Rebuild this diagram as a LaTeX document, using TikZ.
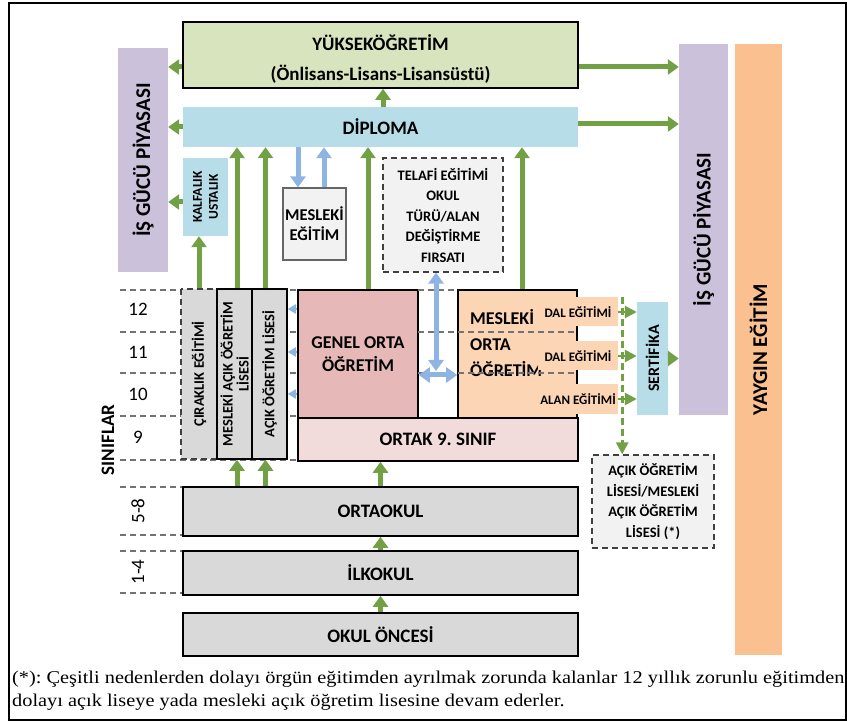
\documentclass[tikz,border=0pt]{standalone}
\usepackage{fontspec}
\setmainfont{Carlito}
\newfontfamily\notefont[FakeStretch=1.13]{Liberation Serif}
\usetikzlibrary{shapes,arrows.meta,positioning,calc}

\newcommand{\fsz}[2]{\fontsize{#1}{#2}\selectfont}

\definecolor{yokgreen}{HTML}{D7E4BD}
\definecolor{dipblue}{HTML}{B7DEE8}
\definecolor{isgucu}{HTML}{CCC1DA}
\definecolor{yaygincol}{HTML}{FAC090}
\definecolor{meslek}{HTML}{FCD5B5}
\definecolor{genelpink}{HTML}{E6B9B8}
\definecolor{ortakpink}{HTML}{F2DCDB}
\definecolor{okulgray}{HTML}{D9D9D9}
\definecolor{paleg}{HTML}{F2F2F2}
\definecolor{arrgreen}{HTML}{72A045}
\definecolor{arrblue}{HTML}{8EB4E3}

\begin{document}
\frenchspacing
\begin{tikzpicture}[x=1pt, y=-1pt,
    box/.style={draw, line width=1.6pt, rectangle, inner sep=0pt, align=center, font=\bfseries\fsz{19}{24}},
    flat/.style={rectangle, inner sep=0pt, align=center, font=\bfseries\fsz{19}{24}},
    dbox/.style={draw=black!75, dash pattern=on 6pt off 4pt, line width=1.2pt, fill=paleg, rectangle, inner sep=0pt, align=center, font=\bfseries\fsz{14.5}{20.5}},
    col/.style={rectangle, rotate=90, inner sep=0pt, minimum width=170pt, minimum height=35pt, fill=okulgray, align=center, font=\bfseries\fsz{14.5}{16}},
    garrow/.style={draw=arrgreen, line width=5pt, -{Triangle[width=15pt,length=11pt]}},
    barrow/.style={draw=arrblue, line width=5pt, -{Triangle[width=15pt,length=11pt]}},
    bboth/.style={draw=arrblue, line width=5pt, {Triangle[width=15pt,length=11pt]}-{Triangle[width=15pt,length=11pt]}},
    gdash/.style={draw=arrgreen, line width=2.6pt, dash pattern=on 7pt off 4pt, -{Triangle[width=12pt,length=12pt]}},
    bsmall/.style={draw=arrblue, line width=2pt, -{Triangle[width=9pt,length=8pt]}},
    rowline/.style={draw=black!55, line width=1.3pt, dash pattern=on 6pt off 4pt},
    grade/.style={inner sep=0pt, font=\fsz{19}{22}},
    bandtext/.style={rectangle, fill=meslek, inner sep=0pt, minimum width=80pt, minimum height=29pt, font=\bfseries\fsz{13}{14}}
]
\useasboundingbox (0,0) rectangle (847,722);
\draw[line width=2pt] (9,3) rectangle (846,720);

% grade rows
\foreach \yy in {290,332,373,416,460} \draw[rowline] (120,\yy) -- (298,\yy);
\foreach \yy in {487,535,551,593} \draw[rowline] (120,\yy) -- (183,\yy);

% top
\node (yuksek) [box, fill=yokgreen, minimum width=395pt, minimum height=66pt, font=\bfseries\fsz{19}{30}] at (380.5,55) {\rule{0pt}{24pt}YÜKSEKÖĞRETİM\\(Önlisans-Lisans-Lisansüstü)};
\node (dipl) [flat, fill=dipblue, minimum width=395pt, minimum height=40pt] at (380.5,127) {DİPLOMA};
\node (igpL) [flat, fill=isgucu, rotate=90, minimum width=224pt, minimum height=50pt, font=\bfseries\fsz{21}{22}] at (143,160) {İŞ GÜCÜ PİYASASI};
\node (igpR) [flat, fill=isgucu, rotate=90, minimum width=371pt, minimum height=49pt, font=\bfseries\fsz{21}{22}] at (703.5,229.5) {İŞ GÜCÜ PİYASASI};
\node (yaygin) [flat, fill=yaygincol, rotate=90, minimum width=611pt, minimum height=47pt, font=\bfseries\fsz{21}{22}] at (758.5,349.5) {YAYGIN EĞİTİM};

% middle
\node (kalfa) [flat, fill=dipblue, rotate=90, minimum width=78pt, minimum height=45pt, font=\bfseries\fsz{13.5}{16}] at (205.5,197) {KALFALIK\\USTALIK};
\node (mesegt) [draw=black!60, line width=1.2pt, fill=paleg, inner sep=0pt, align=center, minimum width=63pt, minimum height=72pt, font=\bfseries\fsz{16.5}{20}] at (314.5,224) {MESLEKİ\\EĞİTİM};
\node (telafi) [dbox, minimum width=120pt, minimum height=114pt] at (443,215) {TELAFİ EĞİTİMİ\\OKUL\\TÜRÜ/ALAN\\DEĞİŞTİRME\\FIRSATI};

\node (cirak) [col, draw=black!75, dash pattern=on 6pt off 4pt, line width=1.2pt, minimum height=36pt] at (199,374) {ÇIRAKLIK EĞİTİMİ};
\node (maol) [col, draw, line width=1.5pt] at (234.5,374) {MESLEKİ AÇIK ÖĞRETİM\\LİSESİ};
\node (aol) [col, draw, line width=1.5pt] at (269.5,374) {AÇIK ÖĞRETİM LİSESİ};

\node (genel) [box, fill=genelpink, minimum width=120pt, minimum height=128pt, font=\bfseries\fsz{18}{23}] at (358,354) {GENEL ORTA\\ÖĞRETİM};
\node (mort) [box, fill=meslek, minimum width=119pt, minimum height=128pt] at (517.5,354) {};
\node (morttxt) [anchor=west, inner sep=0pt, align=left, font=\bfseries\fsz{18}{26}] at (470,343) {MESLEKİ\\ORTA\\ÖĞRETİM};
\draw[rowline] (418,290) -- (458,290);
\foreach \yy in {332,373} \draw[rowline] (418,\yy) -- (577,\yy);
\node (dal1) [bandtext] at (578,312) {DAL EĞİTİMİ};
\node (dal2) [bandtext] at (578,356) {DAL EĞİTİMİ};
\node (alan) [bandtext] at (578,399) {ALAN EĞİTİMİ};
\node (ortak) [box, fill=ortakpink, minimum width=280pt, minimum height=43pt] at (438,439.5) {ORTAK 9. SINIF};

\node (sert) [flat, fill=dipblue, rotate=90, minimum width=113pt, minimum height=31pt, font=\bfseries\fsz{16}{18}] at (652.5,358.5) {SERTİFİKA};
\node (acik) [dbox, minimum width=122pt, minimum height=93pt] at (653,501.5) {AÇIK ÖĞRETİM\\LİSESİ/MESLEKİ\\AÇIK ÖĞRETİM\\LİSESİ (*)};

% bottom
\node (ortaokul) [box, fill=okulgray, minimum width=395pt, minimum height=49pt] at (380.5,511.5) {ORTAOKUL};
\node (ilkokul) [box, fill=okulgray, minimum width=395pt, minimum height=44pt] at (380.5,573) {İLKOKUL};
\node (okulonc) [box, fill=okulgray, minimum width=395pt, minimum height=43pt] at (380.5,634.5) {OKUL ÖNCESİ};

% grades
\node (g12) [grade] at (138,309) {12};
\node (g11) [grade] at (138,352) {11};
\node (g10) [grade] at (138,394) {10};
\node (g9) [grade] at (138,437) {9};
\node (g58) [grade, rotate=90] at (138,511) {5-8};
\node (g14) [grade, rotate=90] at (138,572) {1-4};
\node (sinif) [rotate=90, inner sep=0pt, font=\bfseries\fsz{19}{22}] at (108,440) {SINIFLAR};

% green arrows
\draw[garrow] ([xshift=2.5pt]dipl.north) -- ([xshift=2.5pt]yuksek.south);
\draw[garrow] ([yshift=-12pt]yuksek.west) -- ([yshift=-12pt]yuksek.west -| igpL.south);
\draw[garrow] (dipl.west) -- (dipl.west -| igpL.south);
\draw[garrow] ([yshift=-5pt]kalfa.north) -- ([yshift=-5pt]kalfa.north -| igpL.south);
\draw[garrow] ([yshift=-12pt]yuksek.east) -- ([yshift=-12pt]yuksek.east -| igpR.north);
\draw[garrow] ([yshift=3pt]dipl.east) -- ([yshift=3pt]dipl.east -| igpR.north);
\draw[garrow] (cirak.east) -- (cirak.east |- kalfa.west);
\draw[garrow] ([xshift=2.5pt]maol.east) -- ([xshift=2.5pt]maol.east |- dipl.south);
\draw[garrow] ([xshift=-4pt]aol.east) -- ([xshift=-4pt]aol.east |- dipl.south);
\draw[garrow] ([xshift=10pt]genel.north) -- ([xshift=10pt]genel.north |- dipl.south);
\draw[garrow] ([xshift=4.5pt]mort.north) -- ([xshift=4.5pt]mort.north |- dipl.south);
\draw[garrow] (sert.south) -- (sert.south -| igpR.north);
\draw[garrow] (ortaokul.north) -- (ortaokul.north |- ortak.south);
\draw[garrow] ([xshift=2.5pt]maol.west |- ortaokul.north) -- ([xshift=2.5pt]maol.west);
\draw[garrow] ([xshift=-4pt]aol.west |- ortaokul.north) -- ([xshift=-4pt]aol.west);
\draw[garrow] (ilkokul.north) -- (ortaokul.south);
\draw[garrow] (okulonc.north) -- (ilkokul.south);

% blue arrows
\draw[barrow] ([xshift=-16.5pt]mesegt.north |- dipl.south) -- ([xshift=-16.5pt]mesegt.north);
\draw[barrow] ([xshift=9.5pt]mesegt.north) -- ([xshift=9.5pt]mesegt.north |- dipl.south);
\coordinate (hub) at (436,371);
\draw[bboth] (telafi.south -| hub) -- (hub);
\draw[bboth] ([yshift=-21pt]genel.east) -- ([yshift=-21pt]genel.east -| mort.west);
\foreach \g in {g12,g11,g10} \draw[bsmall] (genel.west |- \g) -- (aol.south |- \g);

% dashed green
\draw[gdash] (dal1.east) -- (dal1.east -| sert.north);
\draw[gdash] (dal2.east) -- (dal2.east -| sert.north);
\draw[gdash] (alan.east) -- (alan.east -| sert.north);
\draw[gdash] ([xshift=4pt]dal1.north east) -- ([xshift=4pt]dal1.north east |- acik.north);

% note
\node (note1) [anchor=base west, inner sep=0pt, font=\notefont\fsz{18}{23}] at (12,683) {(*): Çeşitli nedenlerden dolayı örgün eğitimden ayrılmak zorunda kalanlar 12 yıllık zorunlu eğitimden};
\node (note2) [anchor=base west, inner sep=0pt, font=\notefont\fsz{18}{23}] at (12,706) {dolayı açık liseye yada mesleki açık öğretim lisesine devam ederler.};
\end{tikzpicture}
\end{document}
